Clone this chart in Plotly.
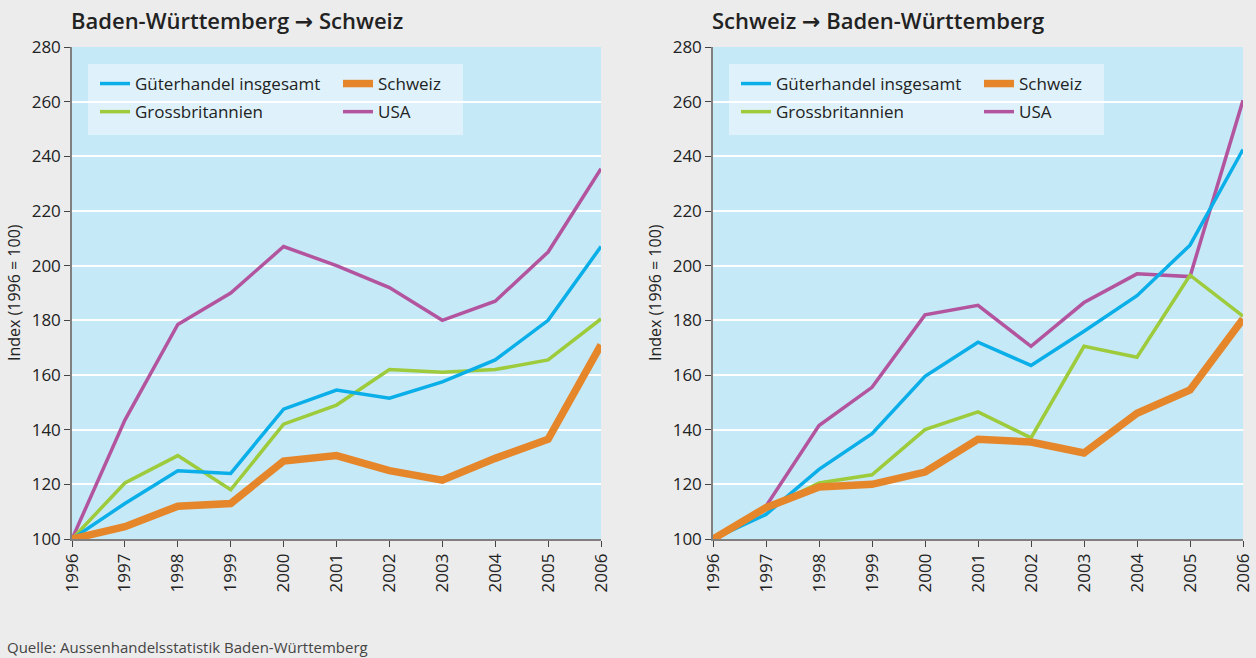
import plotly.graph_objects as go
from plotly.subplots import make_subplots

years = list(range(1996, 2007))

# Baden-Württemberg -> Schweiz (exports)
ex_gesamt = [100, 113, 125, 124, 147.5, 154.5, 151.5, 157.5, 165.5, 180, 207]
ex_gb = [100, 120.5, 130.5, 118, 142, 149, 162, 161, 162, 165.5, 180.5]
ex_schweiz = [100, 104.5, 112, 113, 128.5, 130.5, 125, 121.5, 129.5, 136.5, 171]
ex_usa = [100, 143.5, 178.5, 190, 207, 200, 192, 180, 187, 205, 235.5]

# Schweiz -> Baden-Württemberg (imports)
im_gesamt = [100, 109, 125.5, 138.5, 159.5, 172, 163.5, 176, 189, 207.5, 242.5]
im_gb = [100, 111, 120.5, 123.5, 140, 146.5, 137, 170.5, 166.5, 196.5, 181.5]
im_schweiz = [100, 111.5, 119, 120, 124.5, 136.5, 135.5, 131.5, 146, 154.5, 180.5]
im_usa = [100, 112, 141.5, 155.5, 182, 185.5, 170.5, 186.5, 197, 196, 260.5]

ARROW = '<span style="font-family:DejaVu Sans">→</span>'
titles = ["Baden-Württemberg " + ARROW + " Schweiz", "Schweiz " + ARROW + " Baden-Württemberg"]
names = ["Güterhandel insgesamt", "Grossbritannien", "Schweiz", "USA"]
colors = ["#0aaee8", "#9dcb3b", "#e5862a", "#b3559e"]
widths = [3.5, 3.5, 7.5, 3.5]

FONT = "Open Sans"
W, H = 1256, 658

fig = make_subplots(rows=1, cols=2)

panels = [[ex_gesamt, ex_gb, ex_schweiz, ex_usa], [im_gesamt, im_gb, im_schweiz, im_usa]]
# left column of legend: Güterhandel, Grossbritannien ; right column: Schweiz, USA
legend_ids = [["legend", "legend", "legend2", "legend2"], ["legend3", "legend3", "legend4", "legend4"]]

for p, series in enumerate(panels):
    # draw order: thin lines first, then orange Schweiz on top
    for i in [3, 1, 0, 2]:
        fig.add_trace(go.Scatter(
            x=years, y=series[i], name=names[i], mode="lines",
            line=dict(color=colors[i], width=widths[i]),
            legend=legend_ids[p][i], legendgroup=f"g{p}{i}",
            legendrank=i, hoverinfo="skip"),
            row=1, col=p + 1)

dom = [[72 / W, 601 / W], [713 / W, 1243 / W]]
ydom = [(H - 539) / H, (H - 47) / H]

for p in range(2):
    xa = "xaxis" if p == 0 else "xaxis2"
    ya = "yaxis" if p == 0 else "yaxis2"
    fig.layout[xa].update(
        domain=dom[p], range=[1996, 2006], tickvals=years, ticktext=[str(y) for y in years],
        tickangle=-90, ticks="outside", ticklen=6, tickcolor="#444", automargin=False,
        showline=True, linecolor="#808080", linewidth=1.5, showgrid=False, zeroline=False,
        tickfont=dict(family=FONT, size=17, color="#222"))
    fig.layout[ya].update(
        domain=ydom, range=[100, 280], dtick=20, ticks="outside", ticklen=6, tickcolor="#444",
        showline=True, linecolor="#808080", linewidth=1.5, showgrid=True, gridcolor="white",
        gridwidth=1.5, zeroline=False, automargin=False,
        tickfont=dict(family=FONT, size=17, color="#222"))

    off = 641 * p
    # legend background box
    fig.add_shape(type="rect", xref="paper", yref="paper",
                  x0=(88 + off) / W, x1=(463 + off) / W,
                  y0=1 - 135 / H, y1=1 - 64 / H,
                  fillcolor="#dff2fb", line_width=0, layer="below")
    fig.add_annotation(text=titles[p], xref="paper", yref="paper",
                       x=(69 + off) / W, y=1 - 20 / H, xanchor="left", yanchor="middle",
                       showarrow=False, font=dict(family=FONT, size=22, color="#222", weight=600))
    fig.add_annotation(text="Index (1996 = 100)", xref="paper", yref="paper",
                       x=(14 + off) / W, y=1 - 293 / H, xanchor="center", yanchor="middle",
                       textangle=-90, showarrow=False, font=dict(family=FONT, size=16, color="#222"))

fig.add_annotation(text="Quelle: Aussenhandelsstatistik Baden-Württemberg", xref="paper", yref="paper",
                   x=5 / W, y=1 - 647 / H, xanchor="left", yanchor="middle",
                   showarrow=False, font=dict(family=FONT, size=15, color="#444"))

leg_common = dict(orientation="v", bgcolor="rgba(0,0,0,0)", borderwidth=0,
                  font=dict(family=FONT, size=17, color="#222"),
                  yanchor="top", xanchor="left", tracegroupgap=3, itemclick=False)
lx = [95, 338]
for p in range(2):
    for c in range(2):
        key = ["legend", "legend2", "legend3", "legend4"][p * 2 + c]
        fig.layout[key] = dict(leg_common, x=(lx[c] + 641 * p) / W, y=1 - 66 / H)

fig.update_layout(
    width=W, height=H, margin=dict(l=0, r=0, t=0, b=0, autoexpand=False),
    paper_bgcolor="#ececec", plot_bgcolor="#c6e9f8",
    showlegend=True, font=dict(family=FONT, color="#222"))

fig.write_html("out.html", config={"displayModeBar": False},
               post_script="document.body.style.margin='0';")
